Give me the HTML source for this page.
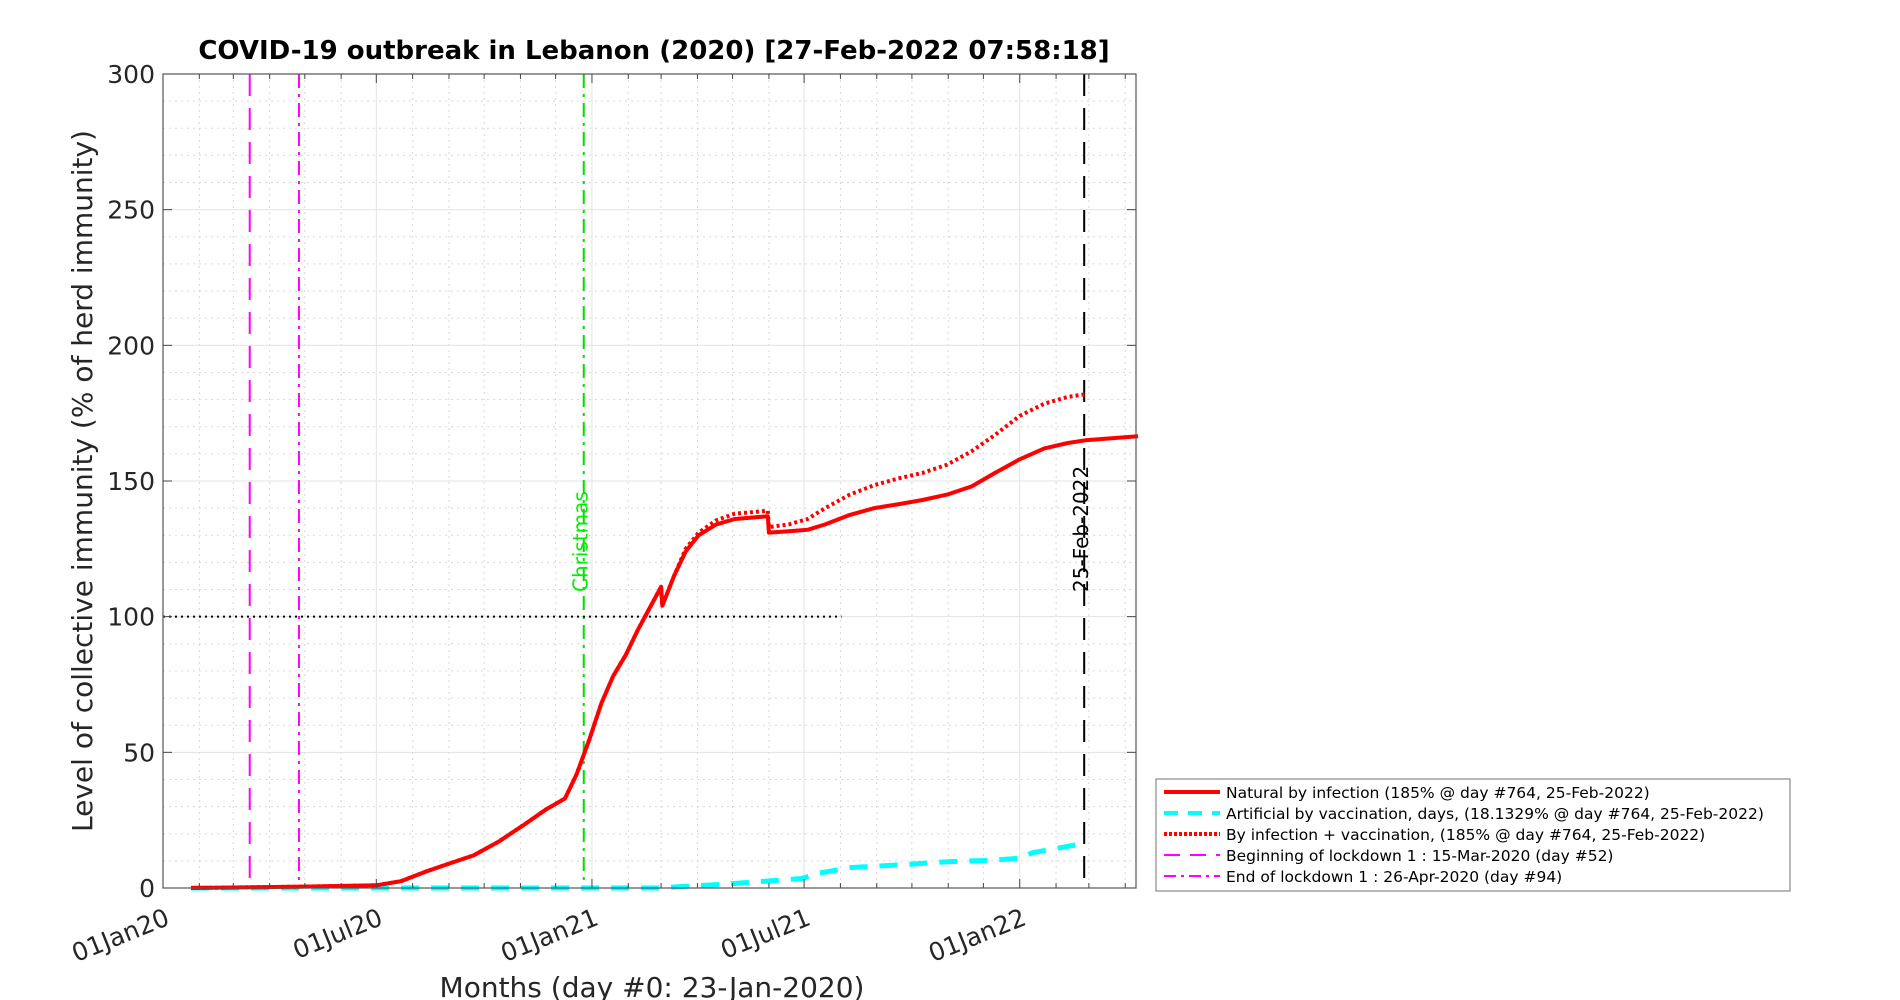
<!DOCTYPE html>
<html><head><meta charset="utf-8"><style>
html,body{margin:0;padding:0;background:#fff;}
svg{display:block;font-family:"DejaVu Sans","Liberation Sans",sans-serif;}
</style></head><body>
<svg id="chart" width="1900" height="1000" viewBox="0 0 1900 1000">
<rect x="0" y="0" width="1900" height="1000" fill="#fff"/>
<g id="grid"></g>
<g id="marks"></g>
<g id="axes"></g>
<text x="654" y="59" font-size="26" font-weight="bold" text-anchor="middle" fill="#000">COVID-19 outbreak in Lebanon (2020) [27-Feb-2022 07:58:18]</text>
<text x="652" y="997" font-size="28" text-anchor="middle" fill="#262626">Months (day #0: 23-Jan-2020)</text>
<text transform="translate(92,481) rotate(-90)" font-size="28" text-anchor="middle" fill="#262626">Level of collective immunity (% of herd immunity)</text>
<g>
<rect x="1156" y="779" width="634" height="112" fill="#fff" stroke="#888" stroke-width="1.2"/>
<g font-size="15.5" fill="#000">
<line x1="1164" y1="792" x2="1220" y2="792" stroke="#f00" stroke-width="4"/>
<text x="1226" y="798">Natural by infection (185% @ day #764, 25-Feb-2022)</text>
<line x1="1164" y1="813" x2="1220" y2="813" stroke="#0ff" stroke-width="4" stroke-dasharray="14,10"/>
<text x="1226" y="819">Artificial by vaccination, days, (18.1329% @ day #764, 25-Feb-2022)</text>
<line x1="1164" y1="834" x2="1220" y2="834" stroke="#f00" stroke-width="4" stroke-dasharray="3,2"/>
<text x="1226" y="840">By infection + vaccination, (185% @ day #764, 25-Feb-2022)</text>
<line x1="1164" y1="855" x2="1220" y2="855" stroke="#f0f" stroke-width="2" stroke-dasharray="16,10"/>
<text x="1226" y="861">Beginning of lockdown 1 : 15-Mar-2020 (day #52)</text>
<line x1="1164" y1="876" x2="1220" y2="876" stroke="#f0f" stroke-width="2" stroke-dasharray="12,5,3,5"/>
<text x="1226" y="882">End of lockdown 1 : 26-Apr-2020 (day #94)</text>
</g></g>
</svg>
<script>
// data (day index from day #0 = 23-Jan-2020, value in % of herd immunity)
const naturalDays = [2,98,160,181,202,222,243,264,285,305,321,331,342,352,362,373,383,393,403,404,414,424,435,450,466,494,495,512,528,543,564,585,606,626,647,668,688,709,730,750,765,810];
const naturalVals = [0,0.5,1,2.5,6,9,12,17,23,29,33,42,55,68,78,86,95,103,111,104,115,124,130,134,136,137,131,131.5,132,134,137.5,140,141.5,143,145,148,153,158,162,164,165,166.5];
const combinedDays = [2,98,160,181,202,222,243,264,285,305,321,331,342,352,362,373,383,393,403,404,414,424,435,450,466,494,495,512,528,543,564,585,606,626,647,668,688,709,730,750,765];
const combinedVals = [0,0.5,1,2.5,6,9,12,17,23,29,33,42,55,68,78,86,95,103,111,104,115,125,131,135.5,138,139,133,134,136,140,145,148.5,151,153,156,161,167,174,178.5,181,182];
const vaccDays = [2,404,419,461,492,523,538,564,606,647,688,709,720,765];
const vaccVals = [0,0,0.5,1.5,2.5,3.5,5.5,7.5,8.5,9.7,10.3,11,13,16.5];
const yTicks = [0,50,100,150,200,250,300];
const xTickLabels = ["01Jan20","01Jul20","01Jan21","01Jul21","01Jan22"];
const xTickDays = [-22,160,344,525,709];
const lockdownStartDay = 52, lockdownEndDay = 94, christmasDay = 337, todayDay = 764, herdLevel = 100, herdLineEndDay = 557;

const L=163, R=1136, T=74, B=888, YMAX=300;
const X0DAY=-22, PXPERDAY=1.172;
function xs(d){return L+(d-X0DAY)*PXPERDAY;}
function ys(v){return B-(v/YMAX)*(B-T);}
const NS="http://www.w3.org/2000/svg";
function mk(tag,attrs,parent){const e=document.createElementNS(NS,tag);for(const k in attrs)e.setAttribute(k,attrs[k]);parent.appendChild(e);return e;}
const grid=document.getElementById('grid'), marks=document.getElementById('marks'), axes=document.getElementById('axes');

const monthStarts=[];
for(let y=2020;y<=2022;y++)for(let m=0;m<12;m++){const d=(Date.UTC(y,m,1)-Date.UTC(2020,0,23))/86400000; if(xs(d)>=L-0.5&&xs(d)<=R)monthStarts.push({d:d,major:(m===0||m===6)});}
monthStarts.forEach(ms=>{
  const l=mk('line',{x1:xs(ms.d),x2:xs(ms.d),y1:T,y2:B,stroke:ms.major?'#e3e3e3':'#d8d8d8','stroke-width':1,'stroke-dasharray':ms.major?'none':'2,4'},grid);
  
  
  const t1=mk('line',{x1:xs(ms.d),x2:xs(ms.d),y1:B,y2:B-(ms.major?9:5),stroke:'#444','stroke-width':1},axes);
  
  
  const t2=mk('line',{x1:xs(ms.d),x2:xs(ms.d),y1:T,y2:T+(ms.major?9:5),stroke:'#444','stroke-width':1},axes);
  
  
});
for(let v=10;v<YMAX;v+=10){
  const major=v%50===0;
  const l=mk('line',{x1:L,x2:R,y1:ys(v),y2:ys(v),stroke:major?'#e3e3e3':'#d8d8d8','stroke-width':1,'stroke-dasharray':major?'none':'2,4'},grid);
  
  
}
yTicks.forEach(v=>{
  const t=mk('text',{x:L-8,y:ys(v)+9,'font-size':25,'text-anchor':'end',fill:'#262626'},axes);
  t.textContent=v;
  
  
  const a=mk('line',{x1:L,x2:L+9,y1:ys(v),y2:ys(v),stroke:'#444'},axes);
  
  
  const b=mk('line',{x1:R,x2:R-9,y1:ys(v),y2:ys(v),stroke:'#444'},axes);
  
  
});
xTickLabels.forEach((lab,i)=>{
  const x=xs(xTickDays[i]);
  const t=mk('text',{transform:`translate(${x+8},${B+36}) rotate(-22)`,'font-size':25,'text-anchor':'end',fill:'#262626'},axes);
  t.textContent=lab;
  
  
});
const frame=mk('rect',{x:L,y:T,width:R-L,height:B-T,fill:'none',stroke:'#555','stroke-width':1.2},axes);



function vline(d,color,dash,name){const l=mk('line',{x1:xs(d),x2:xs(d),y1:T,y2:B,stroke:color,'stroke-width':2,'stroke-dasharray':dash},marks);}
vline(lockdownStartDay,'#f0f','22,12','lockdown-start-line');
vline(lockdownEndDay,'#f0f','14,6,3,6','lockdown-end-line');
vline(christmasDay,'#0d0','14,6,3,6','christmas-line');
vline(todayDay,'#000','22,12','today-line');
const herd=mk('line',{x1:L,x2:xs(herdLineEndDay),y1:ys(herdLevel),y2:ys(herdLevel),stroke:'#000','stroke-width':2,'stroke-dasharray':'2,4'},marks);


const ct=mk('text',{transform:`translate(${xs(christmasDay)+4},592) rotate(-90)`,'font-size':20,fill:'#0e0'},marks);
ct.textContent='Christmas';


const tt=mk('text',{transform:`translate(${xs(todayDay)+4},592) rotate(-90)`,'font-size':20,fill:'#000'},marks);
tt.textContent='25-Feb-2022';



function path(days,vals){return days.map((d,i)=>(i?'L':'M')+xs(d).toFixed(1)+','+ys(vals[i]).toFixed(1)).join(' ');}
const pv=mk('path',{d:path(vaccDays,vaccVals),fill:'none',stroke:'#0ff','stroke-width':5,'stroke-dasharray':'18,12'},marks);


const pc=mk('path',{d:path(combinedDays,combinedVals),fill:'none',stroke:'#f00','stroke-width':4,'stroke-dasharray':'3,3'},marks);


const pn=mk('path',{d:path(naturalDays,naturalVals),fill:'none',stroke:'#f00','stroke-width':4,'stroke-linejoin':'round'},marks);


</script>
</body></html>
